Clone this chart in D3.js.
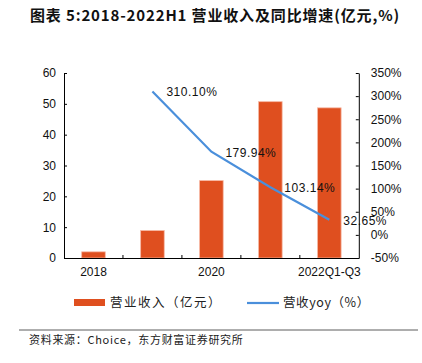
<!DOCTYPE html>
<html>
<head>
<meta charset="utf-8">
<script src="https://cdn.jsdelivr.net/npm/d3@7"></script>
<style>
  body { margin: 0; background: #fff; }
  svg { display: block; }
</style>
</head>
<body>
<svg id="chart" width="422" height="363"></svg>
<script>
const years = ['2018', '2019', '2020', '2021', '2022Q1-Q3'];
const yearLabels = ['2018', '', '2020', '', '2022Q1-Q3'];
const revenue = [2.0, 8.9, 25.1, 50.7, 48.7];
const yoyYears = ['2019', '2020', '2021', '2022Q1-Q3'];
const yoy = [310.10, 179.94, 103.14, 32.65];
const leftTicks = [0, 10, 20, 30, 40, 50, 60];
const rightTicks = [-50, 0, 50, 100, 150, 200, 250, 300, 350];

const svg = d3.select('#chart');
const pLeft = 64, pRight = 358.8, pTop = 73, pBottom = 258;
const barColor = '#df4f1f';
const lineColor = '#4a8fdb';
const latin = 'Liberation Sans, Arial, sans-serif';
const cjk = '"Noto Sans CJK SC", sans-serif';

// title
svg.append('text').attr('x', 30).attr('y', 21)
    .attr('font-family', cjk).attr('font-weight', 'bold').attr('font-size', '15px')
    .attr('letter-spacing', '0.85px').attr('fill', '#111')
    .text('图表 5:2018-2022H1 营业收入及同比增速(亿元,%)');

const x = d3.scaleBand().domain(years).range([pLeft, pRight]);
const y = d3.scaleLinear().domain([0, 60]).range([pBottom, pTop]);
const y2 = d3.scaleLinear().domain([-50, 350]).range([pBottom, pTop]);

// bars
svg.selectAll('.bar').data(years).enter().append('rect').attr('class', 'bar')
    .attr('x', d => x(d) + x.bandwidth() * 0.3)
    .attr('width', x.bandwidth() * 0.4)
    .attr('y', (d, i) => y(revenue[i]))
    .attr('height', (d, i) => pBottom - y(revenue[i]))
    .attr('fill', barColor).attr('stroke', '#f6b8a4').attr('stroke-width', 0.8);

// axes
const gl = svg.append('g').attr('transform', `translate(${pLeft},0)`)
    .call(d3.axisLeft(y).tickValues(leftTicks).tickSizeInner(-3).tickSizeOuter(0).tickPadding(8));
const gr = svg.append('g').attr('transform', `translate(${pRight},0)`)
    .call(d3.axisRight(y2).tickValues(rightTicks).tickFormat(d => d + '%').tickSizeInner(-3).tickSizeOuter(0).tickPadding(12));
const gx = svg.append('g').attr('transform', `translate(0,${pBottom})`)
    .call(d3.axisBottom(x).tickFormat((d, i) => yearLabels[i]).tickSize(0).tickPadding(9));
[gl, gr, gx].forEach(g => {
    g.select('.domain').attr('stroke', '#000').attr('stroke-width', 1);
    g.selectAll('.tick line').attr('stroke', '#000');
    g.selectAll('text').attr('font-family', latin).attr('font-size', '12px').attr('fill', '#111');
});
// x ticks at band boundaries, pointing up
gx.selectAll('.bnd').data(years.slice(1)).enter().append('line')
    .attr('x1', d => x(d)).attr('x2', d => x(d)).attr('y1', 0).attr('y2', -3).attr('stroke', '#000');

// line
const line = d3.line().x(d => x(d.k) + x.bandwidth() / 2).y(d => y2(d.v));
const pts = yoyYears.map((k, i) => ({ k, v: yoy[i] }));
svg.append('path').datum(pts).attr('d', line)
    .attr('fill', 'none').attr('stroke', lineColor).attr('stroke-width', 2.2);

// data labels
svg.selectAll('.lbl').data(pts).enter().append('text')
    .attr('x', d => x(d.k) + x.bandwidth() / 2 + 14)
    .attr('y', d => y2(d.v) + 5)
    .attr('font-family', latin).attr('font-size', '12px').attr('letter-spacing', '0.5px').attr('fill', '#111')
    .text(d => d.v.toFixed(2) + '%');

// legend
svg.append('rect').attr('x', 74).attr('y', 299).attr('width', 31).attr('height', 7).attr('fill', barColor);
svg.append('text').attr('x', 110).attr('y', 307).attr('font-family', cjk).attr('font-size', '12.5px')
    .attr('letter-spacing', '1.5px').attr('fill', '#222').text('营业收入（亿元）');
svg.append('line').attr('x1', 247).attr('x2', 279).attr('y1', 303).attr('y2', 303)
    .attr('stroke', lineColor).attr('stroke-width', 2.2);
svg.append('text').attr('x', 283).attr('y', 307).attr('font-family', cjk).attr('font-size', '12.5px')
    .attr('letter-spacing', '0.6px').attr('fill', '#222').text('营收yoy（%）');

// source
svg.append('line').attr('x1', 19).attr('x2', 418).attr('y1', 330).attr('y2', 330)
    .attr('stroke', '#333').attr('stroke-width', 0.8);
svg.append('text').attr('x', 29).attr('y', 344).attr('font-family', cjk).attr('font-size', '11px')
    .attr('letter-spacing', '0.7px').attr('fill', '#222').text('资料来源：Choice，东方财富证券研究所');
</script>
</body>
</html>
